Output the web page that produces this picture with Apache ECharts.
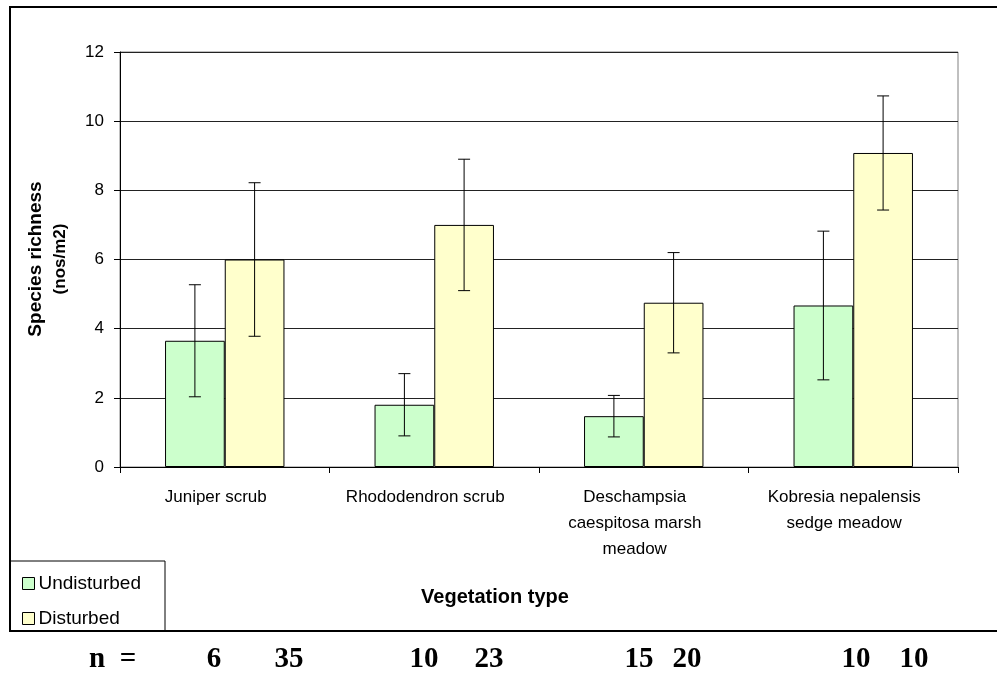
<!DOCTYPE html>
<html>
<head>
<meta charset="utf-8">
<script src="https://cdn.jsdelivr.net/npm/echarts@6/dist/echarts.min.js"></script>
<style>
  html, body { margin: 0; padding: 0; background: #fff; }
  #chart { width: 997px; height: 692px; }
</style>
</head>
<body>
<div id="chart"></div>
<script>
// Vegetation types (axis labels wrap as in the printed figure)
const categories = [
  'Juniper scrub',
  'Rhododendron scrub',
  'Deschampsia\ncaespitosa marsh\nmeadow',
  'Kobresia nepalensis\nsedge meadow'
];
// Mean species richness per plot (nos/m2)
const undisturbedMean = [3.65, 1.8, 1.47, 4.67];
const disturbedMean   = [6.0, 7.0, 4.75, 9.08];
// Error bar half-widths (standard deviation)
const undisturbedErr = [1.62, 0.9, 0.6, 2.15];
const disturbedErr   = [2.22, 1.9, 1.45, 1.65];
// Sample sizes printed under the chart
const sampleSizes = [[6, 35], [10, 23], [15, 20], [10, 10]];
const yTicks = [0, 2, 4, 6, 8, 10, 12];

const chart = echarts.init(document.getElementById('chart'), null, { renderer: 'canvas' });

const CATEGORY_GAP = 0.43; // share of each band left empty

function errorSeries(name, means, errs, side) {
  return {
    type: 'custom',
    name: name + ' error',
    z: 5,
    silent: true,
    data: means.map((m, i) => [i, m - errs[i], m + errs[i]]),
    renderItem: function (params, api) {
      const idx = api.value(0);
      const band = api.size([1, 0])[0];
      const barW = band * (1 - CATEGORY_GAP) / 2;
      const cx = api.coord([idx, 0])[0] + side * barW / 2;
      const lo = api.coord([idx, api.value(1)])[1];
      const hi = api.coord([idx, api.value(2)])[1];
      const cap = 6;
      const style = { stroke: '#000', lineWidth: 1 };
      return {
        type: 'group',
        children: [
          { type: 'line', shape: { x1: cx, y1: lo, x2: cx, y2: hi }, style: style },
          { type: 'line', shape: { x1: cx - cap, y1: hi, x2: cx + cap, y2: hi }, style: style },
          { type: 'line', shape: { x1: cx - cap, y1: lo, x2: cx + cap, y2: lo }, style: style }
        ]
      };
    }
  };
}

// n = ... row beneath the chart
const nFont = 'bold 29px "Liberation Serif", serif';
const nLabelX = [[214, 289], [424, 489], [639, 687], [856, 914]];
const nTexts = [
  { type: 'text', x: 97, y: 645, style: { text: 'n', font: nFont, fill: '#000', align: 'center', verticalAlign: 'top' } },
  { type: 'text', x: 128, y: 645, style: { text: '=', font: nFont, fill: '#000', align: 'center', verticalAlign: 'top' } }
];
sampleSizes.forEach((pair, i) => {
  pair.forEach((n, j) => {
    nTexts.push({
      type: 'text',
      x: nLabelX[i][j], y: 645,
      style: { text: String(n), font: nFont, fill: '#000', align: 'center', verticalAlign: 'top' }
    });
  });
});

const option = {
  backgroundColor: '#fff',
  animation: false,
  textStyle: { fontFamily: '"Liberation Sans", Arial, sans-serif' },
  grid: {
    left: 120, right: 39, top: 52, bottom: 225,
    show: true, borderColor: '#808080', borderWidth: 1, backgroundColor: 'transparent'
  },
  legend: {
    orient: 'vertical',
    left: 17, top: 569,
    itemWidth: 12, itemHeight: 12,
    itemGap: 16,
    icon: 'rect',
    selectedMode: false,
    data: ['Undisturbed', 'Disturbed'],
    textStyle: { fontSize: 19, color: '#000', padding: [0, 0, 0, -1] },
    itemStyle: { borderColor: '#000', borderWidth: 1 }
  },
  xAxis: {
    type: 'category',
    data: categories,
    axisLine: { lineStyle: { color: '#000', width: 1 } },
    axisTick: { show: true, length: 6, lineStyle: { color: '#000' } },
    axisLabel: { interval: 0, fontSize: 17, color: '#000', lineHeight: 26, margin: 17, padding: [0, 18, 0, 0] },
    splitLine: { show: false }
  },
  yAxis: {
    type: 'value',
    min: yTicks[0], max: yTicks[yTicks.length - 1], interval: 2,
    axisLine: { show: true, lineStyle: { color: '#000', width: 1 } },
    axisTick: { show: true, length: 6, lineStyle: { color: '#000' } },
    axisLabel: { fontSize: 17, color: '#000', margin: 16 },
    splitLine: { show: true, lineStyle: { color: '#222', width: 1 } }
  },
  series: [
    {
      name: 'Undisturbed',
      type: 'bar',
      data: undisturbedMean,
      barGap: '0%',
      barCategoryGap: (CATEGORY_GAP * 100) + '%',
      itemStyle: { color: '#CCFFCC', borderColor: '#000', borderWidth: 1 }
    },
    {
      name: 'Disturbed',
      type: 'bar',
      data: disturbedMean,
      barGap: '0%',
      barCategoryGap: (CATEGORY_GAP * 100) + '%',
      itemStyle: { color: '#FFFFCC', borderColor: '#000', borderWidth: 1 }
    },
    errorSeries('Undisturbed', undisturbedMean, undisturbedErr, -1),
    errorSeries('Disturbed', disturbedMean, disturbedErr, 1)
  ],
  graphic: [
    // outer frame (open on the right)
    { type: 'rect', z: -1, shape: { x: 10, y: 7, width: 1010, height: 624 },
      style: { fill: 'none', stroke: '#000', lineWidth: 2 } },
    // legend frame
    { type: 'rect', shape: { x: 10, y: 561, width: 155, height: 70 },
      style: { fill: 'none', stroke: '#000', lineWidth: 1 } },
    // y axis title
    { type: 'text', x: 36, y: 259, rotation: Math.PI / 2,
      style: { text: 'Species richness', font: 'bold 19px "Liberation Sans", Arial, sans-serif', fill: '#000', align: 'center', verticalAlign: 'middle' } },
    { type: 'text', x: 60, y: 259, rotation: Math.PI / 2,
      style: { text: '(nos/m2)', font: 'bold 17px "Liberation Sans", Arial, sans-serif', fill: '#000', align: 'center', verticalAlign: 'middle' } },
    // x axis title
    { type: 'text', x: 495, y: 597,
      style: { text: 'Vegetation type', font: 'bold 20px "Liberation Sans", Arial, sans-serif', fill: '#000', align: 'center', verticalAlign: 'middle' } }
  ].concat(nTexts)
};

chart.setOption(option);
</script>
</body>
</html>
